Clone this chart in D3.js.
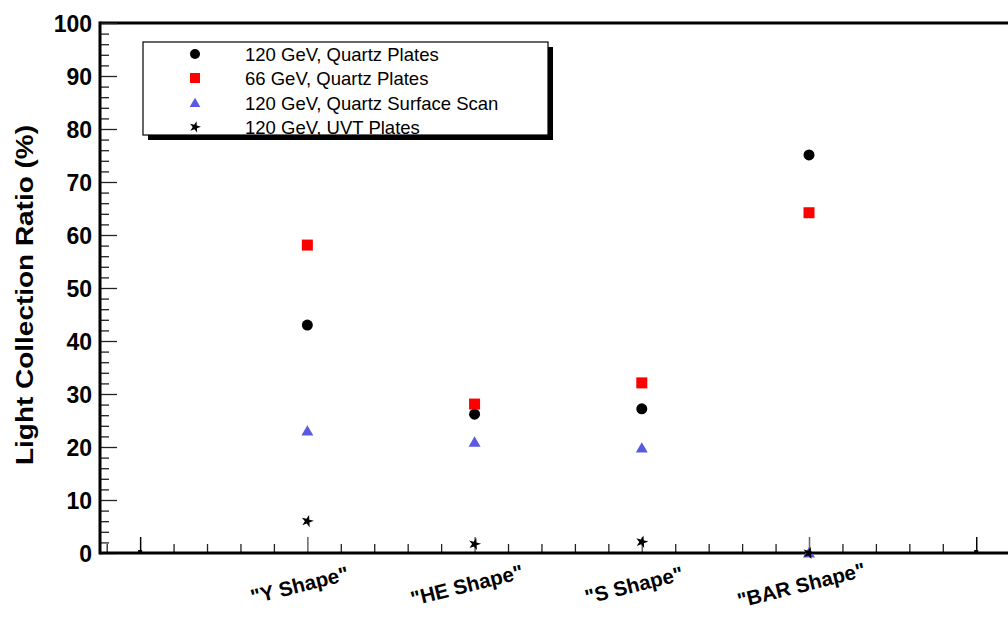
<!DOCTYPE html>
<html><head><meta charset="utf-8">
<script src="https://cdn.jsdelivr.net/npm/d3@7"></script>
<style>body{margin:0;background:#fff}svg{display:block}</style>
</head><body><svg id="c" width="1008" height="619"></svg>
<script>
const categories = ["\"Y Shape\"", "\"HE Shape\"", "\"S Shape\"", "\"BAR Shape\""];
const categoryPositions = [1, 2, 3, 4];
const quartz120 = [43, 26.2, 27.2, 75.1];
const quartz66 = [58.1, 28.1, 32.1, 64.2];
const surface120 = [23, 20.9, 19.8, 0];
const uvt120 = [6, 1.7, 2.1, 0];
const emptyPositions = [0, 5];
const emptyValues = [0, 0];
const yTicks = [0, 10, 20, 30, 40, 50, 60, 70, 80, 90, 100];
const legendLabels = ["120 GeV, Quartz Plates", "66 GeV, Quartz Plates", "120 GeV, Quartz Surface Scan", "120 GeV, UVT Plates"];

const svg = d3.select("#c");
const font = "'Liberation Sans', Arial, sans-serif";
const L = 100, R = 1008, T = 23, B = 553;
const x = d3.scaleLinear().domain([-0.24, 5.19]).range([L, R]);
const y = d3.scaleLinear().domain([0, 100]).range([B, T]);

// frame top line
svg.append("line").attr("x1", L).attr("x2", R).attr("y1", T).attr("y2", T)
  .attr("stroke", "#000").attr("stroke-width", 3);

// y minor ticks
const yMinor = d3.range(0, 101, 2).filter(v => v % 10 !== 0);
svg.append("g").attr("transform", `translate(${L},0)`)
  .call(d3.axisRight(y).tickValues(yMinor).tickSize(9).tickFormat(""))
  .call(g => g.select(".domain").remove())
  .call(g => g.selectAll("line").attr("stroke", "#222").attr("stroke-width", 1.3));
// y major ticks
svg.append("g").attr("transform", `translate(${L},0)`)
  .call(d3.axisRight(y).tickValues(yTicks).tickSize(17).tickFormat(""))
  .call(g => g.select(".domain").remove())
  .call(g => g.selectAll("line").attr("stroke", "#222").attr("stroke-width", 1.3));
// y labels
svg.append("g").attr("transform", `translate(${L},0)`)
  .call(d3.axisLeft(y).tickValues(yTicks).tickSize(0).tickPadding(8))
  .call(g => g.select(".domain").remove())
  .call(g => g.selectAll("text").attr("font-family", font).attr("font-weight", "bold")
    .attr("font-size", 23).attr("fill", "#000").attr("dy", "0.36em"));

// x ticks
const xMinor = d3.range(-0.2, 5.2, 0.2).map(v => Math.round(v * 10) / 10).filter(v => Math.abs(v - Math.round(v)) > 0.01);
const xMajor = [0, 1, 2, 3, 4, 5];
svg.append("g").attr("transform", `translate(0,${B})`)
  .call(d3.axisTop(x).tickValues(xMinor).tickSize(9).tickFormat(""))
  .call(g => g.select(".domain").remove())
  .call(g => g.selectAll("line").attr("stroke", "#222").attr("stroke-width", 1.3));
svg.append("g").attr("transform", `translate(0,${B})`)
  .call(d3.axisTop(x).tickValues(xMajor).tickSize(16).tickFormat(""))
  .call(g => g.select(".domain").remove())
  .call(g => g.selectAll("line").attr("stroke", (d) => (d === 0 || d === 5) ? "#000" : "#666").attr("stroke-width", 1.5));

// axis lines
svg.append("line").attr("x1", L).attr("x2", L).attr("y1", T - 1.5).attr("y2", B + 1.5)
  .attr("stroke", "#000").attr("stroke-width", 3);
svg.append("line").attr("x1", L).attr("x2", R).attr("y1", B).attr("y2", B)
  .attr("stroke", "#000").attr("stroke-width", 3);

// y title
svg.append("text").attr("transform", `translate(33,${(125 + 465) / 2}) rotate(-90)`)
  .attr("text-anchor", "middle").attr("font-family", font).attr("font-weight", "bold")
  .attr("font-size", 23).attr("textLength", 340).attr("lengthAdjust", "spacingAndGlyphs")
  .text("Light Collection Ratio (%)");

// x category labels
svg.append("g").selectAll("text").data(categories).join("text")
  .attr("transform", (d, i) => `translate(${x(categoryPositions[i]) - 6},${592}) rotate(-14)`)
  .attr("text-anchor", "middle").attr("font-family", font).attr("font-weight", "bold")
  .attr("font-size", 20.5).text(d => d);

// markers
const tri = d3.symbol().type(d3.symbolTriangle).size(62);
const star = d3.symbol().type(d3.symbolStar).size(48);
svg.append("g").selectAll("path").data(surface120).join("path")
  .attr("d", tri).attr("fill", "#5a5ae0")
  .attr("transform", (d, i) => `translate(${x(categoryPositions[i])},${y(d) + 1})`);
svg.append("g").selectAll("circle").data(quartz120).join("circle")
  .attr("cx", (d, i) => x(categoryPositions[i])).attr("cy", d => y(d)).attr("r", 5.5).attr("fill", "#000");
svg.append("g").selectAll("rect").data(quartz66).join("rect")
  .attr("x", (d, i) => x(categoryPositions[i]) - 5.5).attr("y", d => y(d) - 5.5)
  .attr("width", 11).attr("height", 11).attr("fill", "#ff0000");
svg.append("g").selectAll("path").data(uvt120).join("path")
  .attr("d", star).attr("fill", "#000")
  .attr("transform", (d, i) => `translate(${x(categoryPositions[i])},${y(d)}) rotate(15)`);
svg.append("g").selectAll("rect").data(emptyValues).join("rect")
  .attr("x", (d, i) => x(emptyPositions[i]) - 2).attr("y", d => y(d) - 3)
  .attr("width", 4).attr("height", 4).attr("fill", "#000");

// legend
const lx = 143, ly = 42, lw = 405, lh = 93;
svg.append("rect").attr("x", lx + 5).attr("y", ly + 5).attr("width", lw).attr("height", lh).attr("fill", "#000");
svg.append("rect").attr("x", lx).attr("y", ly).attr("width", lw).attr("height", lh)
  .attr("fill", "#fff").attr("stroke", "#000").attr("stroke-width", 1.2);
const rowsY = [54, 78, 103, 127];
const lg = svg.append("g");
lg.append("circle").attr("cx", 195).attr("cy", rowsY[0]).attr("r", 5).attr("fill", "#000");
lg.append("rect").attr("x", 190).attr("y", rowsY[1] - 5).attr("width", 10).attr("height", 10).attr("fill", "#ff0000");
lg.append("path").attr("d", d3.symbol().type(d3.symbolTriangle).size(50)).attr("fill", "#5a5ae0")
  .attr("transform", `translate(195,${rowsY[2] + 1})`);
lg.append("path").attr("d", d3.symbol().type(d3.symbolStar).size(40)).attr("fill", "#000")
  .attr("transform", `translate(195,${rowsY[3]}) rotate(15)`);
lg.selectAll("text").data(legendLabels).join("text")
  .attr("x", 245).attr("y", (d, i) => rowsY[i]).attr("dy", "0.36em")
  .attr("font-family", font).attr("font-size", 18.5).text(d => d);
</script></body></html>
